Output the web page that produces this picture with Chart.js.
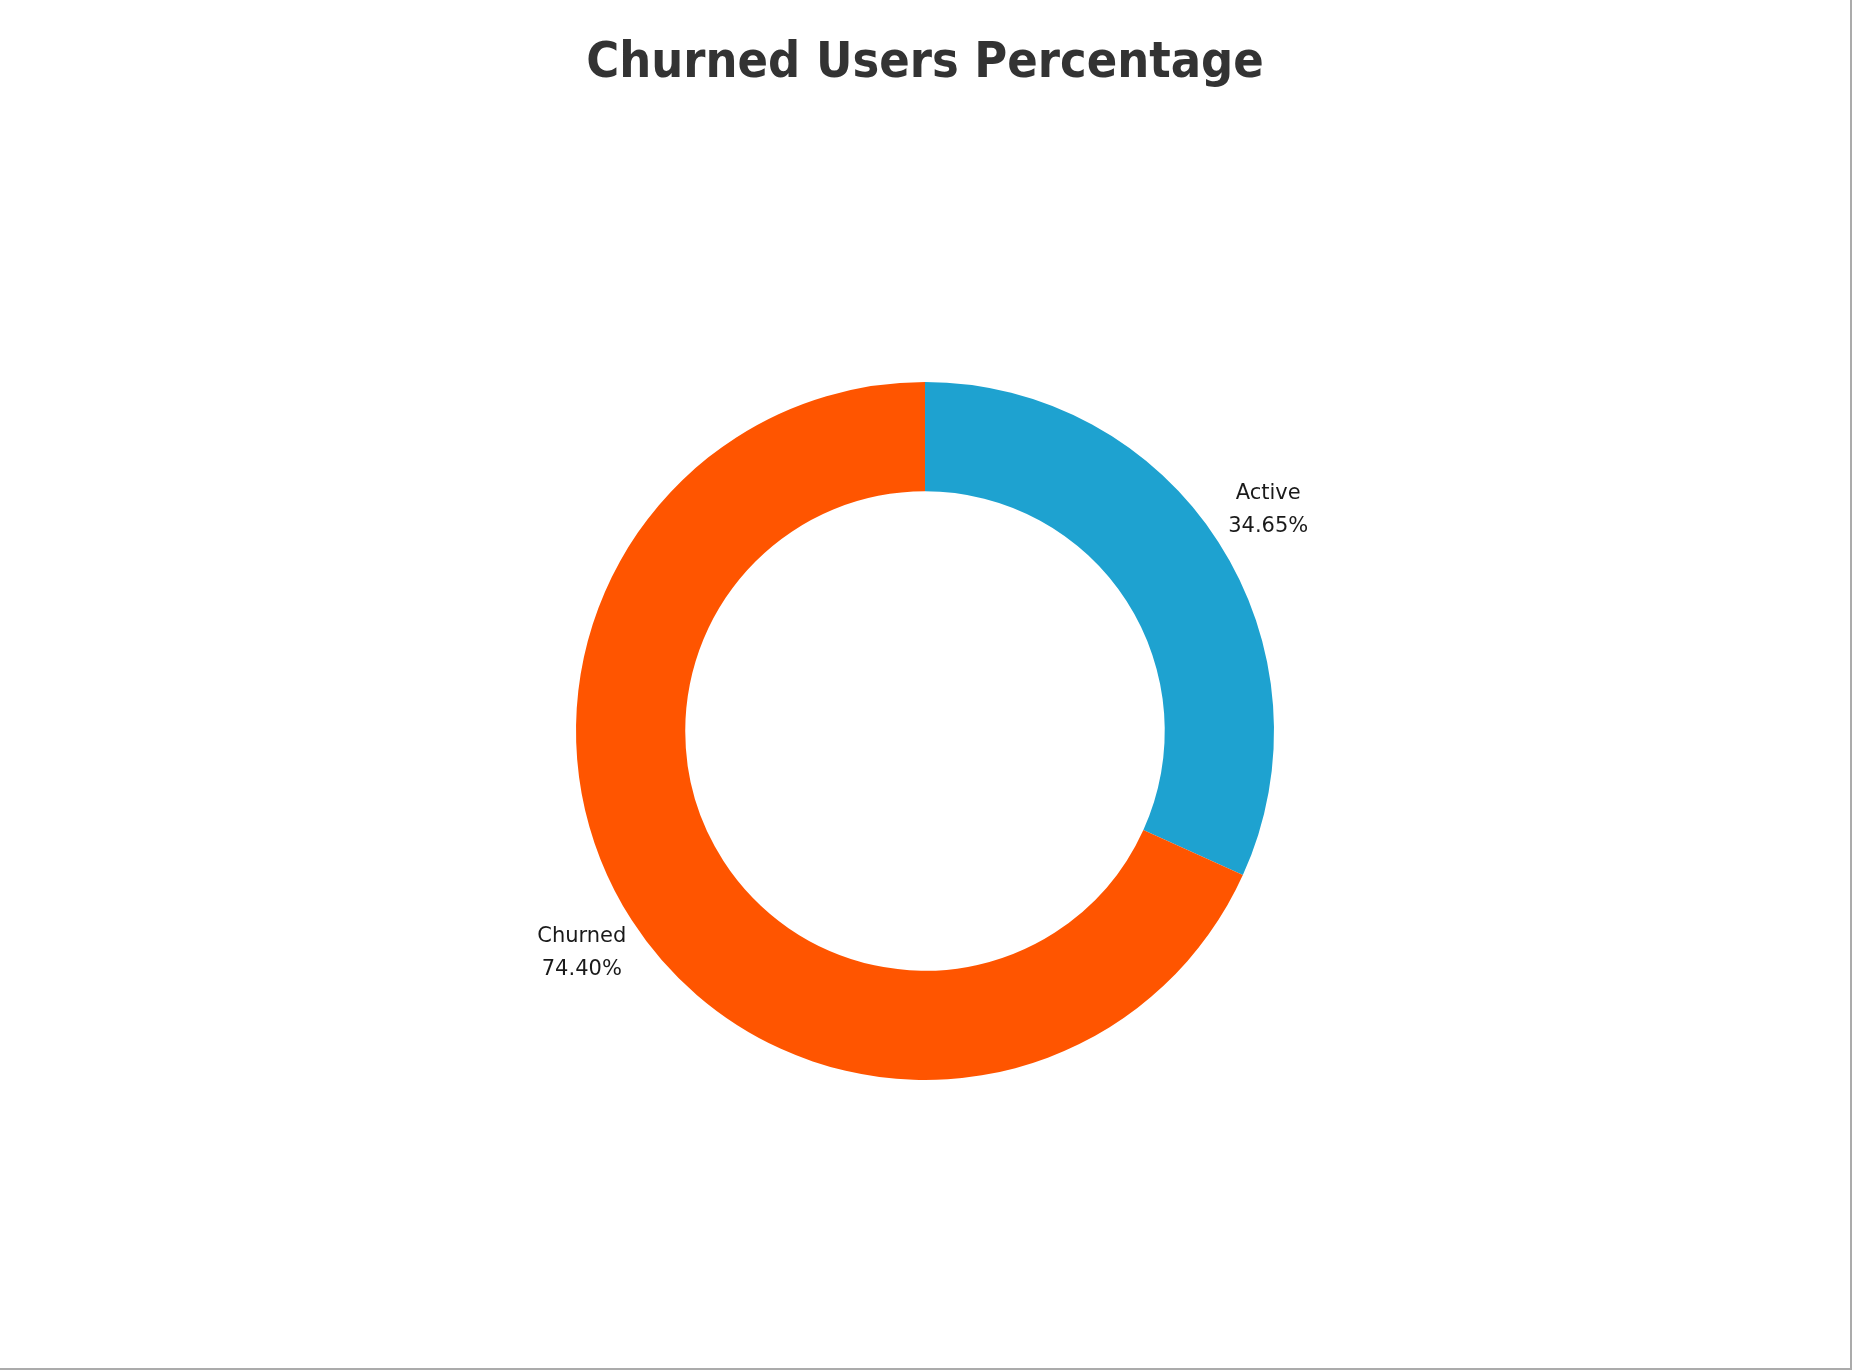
<!DOCTYPE html>
<html>
<head>
<meta charset="utf-8">
<script src="https://cdn.jsdelivr.net/npm/chart.js@4/dist/chart.umd.min.js"></script>
<style>
  html, body { margin: 0; padding: 0; background: #fff; }
  #wrap { width: 1850px; height: 1368px; border-right: 2px solid #ababab; border-bottom: 2px solid #ababab; position: relative; }
</style>
</head>
<body>
<div id="wrap"><canvas id="chart-churn"></canvas></div>
<script>
const labels  = ['Active', 'Churned'];
const valores = [34.65, 74.40];
const colores = ['#1EA2D0', '#FF5500'];

// etiquetas fuera del anillo, nombre + porcentaje
const etiquetasFuera = {
  id: 'etiquetasFuera',
  afterDatasetsDraw(chart) {
    const { ctx } = chart;
    const meta = chart.getDatasetMeta(0);
    ctx.save();
    ctx.font = '21px "DejaVu Sans"';
    ctx.fillStyle = '#1a1a1a';
    ctx.textAlign = 'center';
    ctx.textBaseline = 'middle';
    meta.data.forEach((arc, i) => {
      const { x, y, startAngle, endAngle, outerRadius } = arc.getProps(['x', 'y', 'startAngle', 'endAngle', 'outerRadius'], true);
      const mid = (startAngle + endAngle) / 2;
      const r = outerRadius * 1.17;
      const lx = x + Math.cos(mid) * r;
      const ly = y + Math.sin(mid) * r;
      ctx.fillText(labels[i], lx, ly - 16);
      ctx.fillText(valores[i].toFixed(2) + '%', lx, ly + 17);
    });
    ctx.restore();
  }
};

new Chart(document.getElementById('chart-churn').getContext('2d'), {
  type: 'doughnut',
  data: {
    labels,
    datasets: [{ data: valores, backgroundColor: colores, borderWidth: 0, hoverOffset: 0 }]
  },
  options: {
    responsive: true, maintainAspectRatio: false, animation: false,
    cutout: '68.7%',
    layout: { padding: { top: 0, bottom: 288, left: 0, right: 0 } },
    plugins: {
      legend: { display: false },
      tooltip: { enabled: false },
      title: {
        display: true,
        text: 'Churned Users Percentage',
        color: '#333333',
        font: { family: '"DejaVu Sans Condensed", "DejaVu Sans"', size: 50, weight: 'bold' },
        padding: { top: 34, bottom: 288 }
      }
    }
  },
  plugins: [etiquetasFuera]
});
</script>
</body>
</html>
